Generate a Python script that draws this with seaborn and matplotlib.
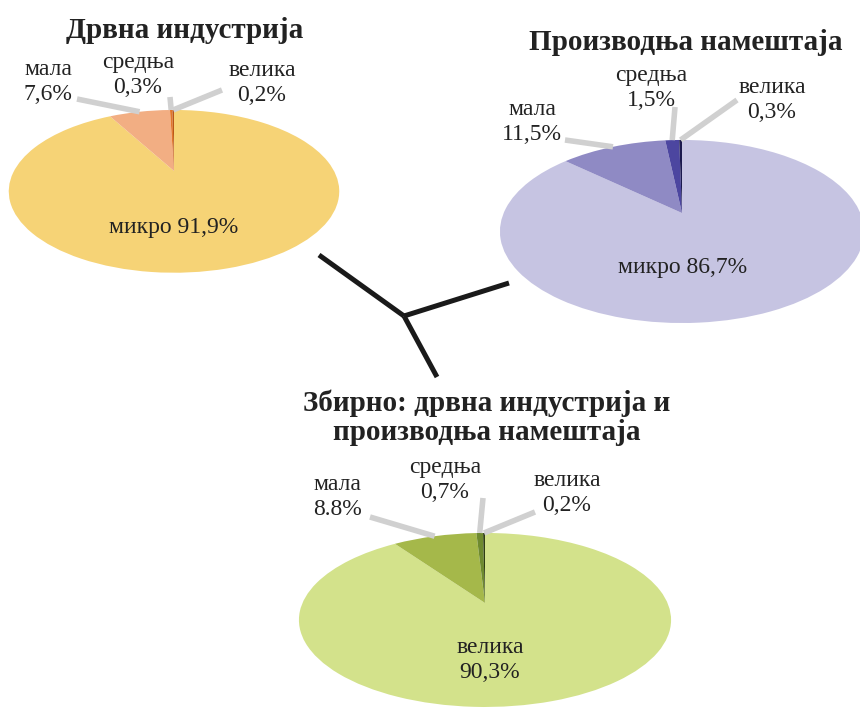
import numpy as np
import matplotlib
matplotlib.use("Agg")
import matplotlib.pyplot as plt
from matplotlib.transforms import Transform
import seaborn as sns

# shares (%) by enterprise size, clockwise from 12 o'clock: micro, small, medium, large
wood_vals = [91.9, 7.6, 0.3, 0.2]
furniture_vals = [86.7, 11.5, 1.5, 0.3]
total_vals = [90.3, 8.8, 0.7, 0.2]

wood_labels = ["микро 91,9%", "мала\n7,6%", "средња\n0,3%", "велика\n0,2%"]
furniture_labels = ["микро 86,7%", "мала\n11,5%", "средња\n1,5%", "велика\n0,3%"]
total_labels = ["велика\n90,3%", "мала\n8.8%", "средња\n0,7%", "велика\n0,2%"]

titles = ["Дрвна индустрија", "Производња намештаја",
          "Збирно: дрвна индустрија и\nпроизводња намештаја"]

wood_colors = ["#f6d376", "#f2ae83", "#e2772c", "#b9561a"]
furniture_colors = ["#c6c4e2", "#8f8ac4", "#4c46a0", "#1c1a4e"]
total_colors = ["#d3e28b", "#a5b84a", "#6e8a2f", "#2e3d12"]


class Tilt(Transform):
    """unit-circle pie -> tilted (perspective) ellipse in pixel coords"""
    input_dims = output_dims = 2

    def __init__(self, cx, cy, a, b, k):
        super().__init__()
        self.cx, self.cy, self.a, self.b, self.k = cx, cy, a, b, k

    def transform_non_affine(self, values):
        values = np.asarray(values, dtype=float)
        u, v = values[:, 0], values[:, 1]
        d = 1 + self.k * v
        return np.column_stack([self.cx + self.a * u / d, self.cy - self.b * v / d])


sns.set_theme(style="white")
plt.rcParams["font.family"] = ["Liberation Serif", "DejaVu Serif"]
text_color = "#222222"

fig = plt.figure(figsize=(8.6, 7.09), dpi=100)
ax = fig.add_axes([0, 0, 1, 1])

# layout: apex, axes of the tilted disc, title and label anchors, leader outer ends
charts = [
    dict(vals=wood_vals, labels=wood_labels, colors=wood_colors, title=titles[0],
         tilt=(174, 171, 160, 76.3, 0.25), title_xy=(185, 31),
         label_xy=[(174, 228), (48, 82), (138, 75), (262, 83)],
         leader_xy=[None, (77, 99), (170, 97), (222, 90)]),
    dict(vals=furniture_vals, labels=furniture_labels, colors=furniture_colors, title=titles[1],
         tilt=(682, 213, 178.3, 87.8, 0.202), title_xy=(686, 42),
         label_xy=[(683, 268), (532, 122), (651, 88), (772, 100)],
         leader_xy=[None, (565, 140), (675, 107), (737, 100)]),
    dict(vals=total_vals, labels=total_labels, colors=total_colors, title=titles[2],
         tilt=(485, 603, 182.5, 83.7, 0.195), title_xy=(487, 418),
         label_xy=[(490, 660), (337, 497), (445, 480), (567, 493)],
         leader_xy=[None, (370, 517), (483, 498), (535, 512)]),
]

for ch in charts:
    tilt = Tilt(*ch["tilt"])
    wedges, _ = ax.pie(ch["vals"], colors=ch["colors"], startangle=90, counterclock=False,
                       radius=1, center=(0, 0), wedgeprops=dict(linewidth=0))
    for w in wedges:
        w.set_transform(tilt + ax.transData)
    # leader lines from the rim of each small slice
    for w, end in zip(wedges, ch["leader_xy"]):
        if end is None:
            continue
        mid = np.deg2rad((w.theta1 + w.theta2) / 2)
        sx, sy = tilt.transform([[np.cos(mid), np.sin(mid)]])[0]
        ax.plot([end[0], sx], [end[1], sy], color="#d0d0d0", lw=4, solid_capstyle="butt", zorder=1)
    for lab, (x, y) in zip(ch["labels"], ch["label_xy"]):
        ax.text(x, y, lab, ha="center", va="center", fontsize=17, color=text_color,
                linespacing=1.3, zorder=5)
    ax.text(*ch["title_xy"], ch["title"], ha="center", va="center", fontsize=21,
            fontweight="bold", color=text_color, linespacing=1.08, zorder=5)

# connector between the three charts
hub = (404, 316)
for end in [(319, 255), (509, 283), (437, 377)]:
    ax.plot([hub[0], end[0]], [hub[1], end[1]], color="#1a1a1a", lw=3.6,
            solid_capstyle="butt", zorder=2)

ax.set_aspect("auto")
ax.set_xlim(0, 860)
ax.set_ylim(709, 0)
ax.axis("off")

fig.savefig("out.png", dpi=100)
